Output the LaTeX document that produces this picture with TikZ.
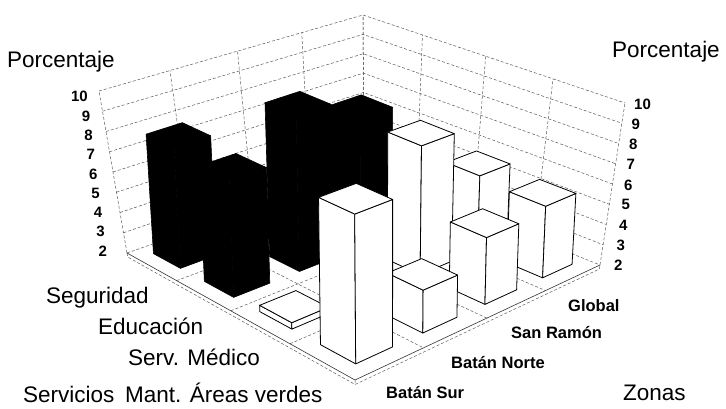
\documentclass[tikz,border=0pt]{standalone}
\usepackage{fontspec}
\setmainfont{Liberation Sans}
\tikzset{
  grid line/.style={densely dashed, black!65, line width=0.5pt},
  base line/.style={black!80, line width=0.6pt},
  dark bar/.style={fill=black, draw=black, line width=0.6pt, line join=round},
  light bar/.style={fill=white, draw=black, line width=0.8pt, line join=round},
  axis title/.style={font=\fontsize{22.5}{22.5}\selectfont, anchor=base west, inner sep=0pt},
  zone label/.style={font=\bfseries\fontsize{16.5}{16.5}\selectfont, anchor=base west, inner sep=0pt},
  tick label/.style={font=\bfseries\fontsize{15}{15}\selectfont, inner sep=0pt}
}
% point of the chart box: name, u (servicios), v (zonas), value, slant
\newcommand{\cpt}[5]{%
  \pgfmathsetmacro{\qs}{(#2)/4}%
  \pgfmathsetmacro{\qt}{(#3)/4}%
  \pgfmathsetmacro{\qc}{((#4)-2)/8}%
  \pgfmathsetmacro{\qd}{1-0.16487*\qs+0.13726*\qt}%
  \pgfmathsetmacro{\qx}{(169.47*\qs+286.96*\qt+127)/\qd}%
  \pgfmathsetmacro{\qy}{(64.35*\qs-59.67*\qt+253)/\qd}%
  \pgfmathsetmacro{\qe}{1-0.13191*\qs+0.10310*\qt}%
  \pgfmathsetmacro{\qX}{(206.57*\qs+301.43*\qt+99)/\qe}%
  \pgfmathsetmacro{\qY}{(83.49*\qs-74.45*\qt+91)/\qe}%
  \coordinate (#1) at ({\qx+(#5)*\qc*(\qX-\qx)},{\qy+\qc*(\qY-\qy)});%
}
% one bar: servicio index, zona index, value, style
\newcommand{\chartbar}[4]{%
  \cpt{ba}{#1+0.23}{#2+0.23}{2}{0.4}
  \cpt{bb}{#1+0.77}{#2+0.23}{2}{0.4}
  \cpt{bc}{#1+0.77}{#2+0.77}{2}{0.4}
  \cpt{ta}{#1+0.23}{#2+0.23}{#3}{0.4}
  \cpt{tb}{#1+0.77}{#2+0.23}{#3}{0.4}
  \cpt{tc}{#1+0.77}{#2+0.77}{#3}{0.4}
  \cpt{td}{#1+0.23}{#2+0.77}{#3}{0.4}
  \draw[#4] (ba) -- (bb) -- (tb) -- (ta) -- cycle;
  \draw[#4] (bb) -- (bc) -- (tc) -- (tb) -- cycle;
  \draw[#4] (ta) -- (tb) -- (tc) -- (td) -- cycle;
}
\begin{document}
\begin{tikzpicture}[x=1pt,y=-1pt]
\useasboundingbox (0,0) rectangle (726,409);
% walls
\foreach \k in {2,...,10} {
  \cpt{wl}{0}{0}{\k}{1}
  \cpt{wb}{0}{4}{\k}{1}
  \cpt{wr}{4}{4}{\k}{1}
  \draw[grid line] (wl) -- (wb) -- (wr);
}
\foreach \n in {0,...,4} {
  \cpt{lw}{0}{\n}{2}{1}
  \cpt{lt}{0}{\n}{10}{1}
  \draw[grid line] (lw) -- (lt);
  \cpt{rw}{\n}{4}{2}{1}
  \cpt{rt}{\n}{4}{10}{1}
  \draw[grid line] (rw) -- (rt);
}
% floor
\foreach \n in {1,2,3} {
  \cpt{fa}{\n}{0}{2}{1}
  \cpt{fb}{\n}{4}{2}{1}
  \draw[grid line] (fa) -- (fb);
  \cpt{fc}{0}{\n}{2}{1}
  \cpt{fd}{4}{\n}{2}{1}
  \draw[grid line] (fc) -- (fd);
}
\cpt{cL}{0}{0}{2}{1}
\cpt{cF}{4}{0}{2}{1}
\cpt{cR}{4}{4}{2}{1}
\cpt{dL}{0}{0}{1.8}{1}
\cpt{dF}{4}{0}{1.8}{1}
\cpt{dR}{4}{4}{1.8}{1}
\draw[base line] (cL) -- (cF) -- (cR);
\draw[grid line] (cL) -- (dL) -- (dF) -- (dR) -- (cR);
\draw[grid line] (cF) -- (dF);
% bars, back to front
\chartbar{0}{1}{3.3}{dark bar}
\chartbar{1}{2}{8.4}{dark bar}
\chartbar{2}{3}{5.7}{light bar}
\chartbar{0}{0}{7.9}{dark bar}
\chartbar{1}{1}{9.6}{dark bar}
\chartbar{2}{2}{8.3}{light bar}
\chartbar{3}{3}{5.5}{light bar}
\chartbar{1}{0}{7.6}{dark bar}
\chartbar{3}{2}{5.2}{light bar}
\chartbar{2}{0}{2.3}{light bar}
\chartbar{3}{1}{4.0}{light bar}
\chartbar{3}{0}{8.8}{light bar}
% scales
\foreach \k in {2,...,10} {
  \node[tick label, anchor=base east] (tl\k) at ({88+(10-\k)*2.4},{102+(10-\k)*19.25}) {\k};
  \node[tick label, anchor=base west] (tr\k) at ({634-(10-\k)*2.5},{110+(10-\k)*20}) {\k};
}
% titles
\node[axis title] (pleft) at (7,68) {Porcentaje};
\node[axis title] (pright) at (612,58) {Porcentaje};
\node[axis title] (seg) at (46,303) {Seguridad};
\node[axis title] (edu) at (98,334) {Educación};
\node[axis title] (med) at (128,365) {Serv. Médico};
\node[axis title] (serv) at (23,402) {Servicios};
\node[axis title] (mant) at (125,402) {Mant. Áreas verdes};
\node[axis title] (zonas) at (623,400) {Zonas};
\node[zone label] (glob) at (568,311) {Global};
\node[zone label] (sram) at (511,338) {San Ramón};
\node[zone label] (bnor) at (451,368) {Batán Norte};
\node[zone label] (bsur) at (386,398) {Batán Sur};
\end{tikzpicture}
\end{document}
